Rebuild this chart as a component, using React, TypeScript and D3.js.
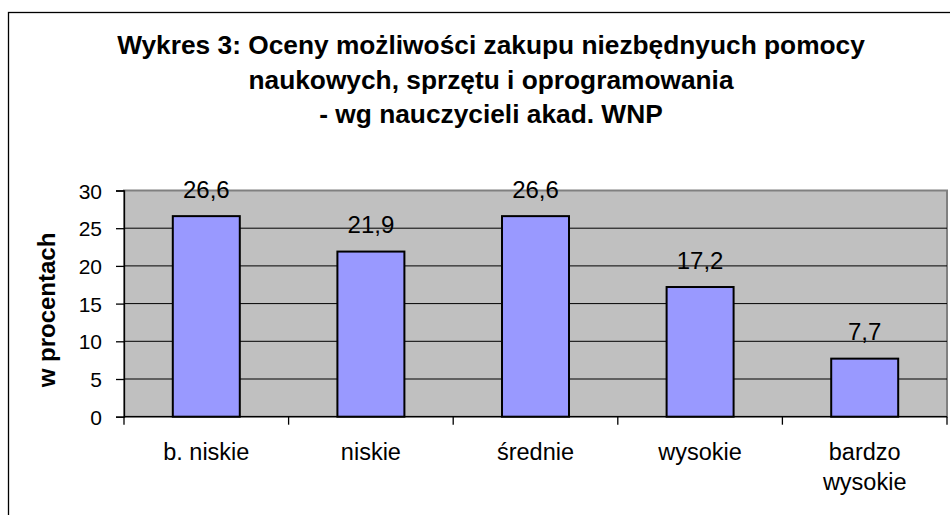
import React, { useEffect, useRef } from "react";
import * as d3 from "d3";

// dane wykresu
const categories = ["b. niskie", "niskie", "średnie", "wysokie", "bardzo wysokie"];
const categoryLines = [["b. niskie"], ["niskie"], ["średnie"], ["wysokie"], ["bardzo", "wysokie"]];
const values = [26.6, 21.9, 26.6, 17.2, 7.7];
const yTicks = [0, 5, 10, 15, 20, 25, 30];
const titleLines = [
  "Wykres 3: Oceny możliwości zakupu niezbędnyuch pomocy",
  "naukowych, sprzętu i oprogramowania",
  "- wg nauczycieli akad. WNP",
];
const yTitle = "w procentach";

const FONT = "'Liberation Sans', Arial, Helvetica, sans-serif";

const App = () => {
  const ref = useRef<SVGSVGElement>(null);

  useEffect(() => {
    const svg = d3.select(ref.current);
    svg.selectAll("*").remove();

    const width = 950;
    const height = 515;
    const plot = { left: 124, right: 947, top: 190.5, bottom: 416.7 };

    // ramka całego wykresu (ucięta z prawej i od dołu)
    svg
      .append("rect")
      .attr("x", 8.5)
      .attr("y", 12.5)
      .attr("width", width)
      .attr("height", height)
      .attr("fill", "#fff")
      .attr("stroke", "#000")
      .attr("stroke-width", 1.3);

    // tytuł
    svg
      .append("g")
      .selectAll("text")
      .data(titleLines)
      .enter()
      .append("text")
      .attr("x", 491)
      .attr("y", (d, i) => 54 + i * 34.5)
      .attr("text-anchor", "middle")
      .attr("font-family", FONT)
      .attr("font-weight", "bold")
      .attr("font-size", 26.3)
      .text((d) => d);

    const x = d3
      .scaleBand<string>()
      .domain(categories)
      .range([plot.left, plot.right])
      .paddingInner(0.593)
      .paddingOuter(0.2965);

    const y = d3.scaleLinear().domain([0, 30]).range([plot.bottom, plot.top]);

    // tło obszaru kreślenia
    svg
      .append("rect")
      .attr("x", plot.left)
      .attr("y", plot.top)
      .attr("width", plot.right - plot.left)
      .attr("height", plot.bottom - plot.top)
      .attr("fill", "#c0c0c0")
      .attr("stroke", "#808080")
      .attr("stroke-width", 2);

    // linie siatki
    svg
      .append("g")
      .selectAll("line")
      .data(yTicks.filter((t) => t > 0 && t < 30))
      .enter()
      .append("line")
      .attr("x1", plot.left)
      .attr("x2", plot.right)
      .attr("y1", (d) => y(d))
      .attr("y2", (d) => y(d))
      .attr("stroke", "#000")
      .attr("stroke-width", 1);

    // oś Y
    const yAxis = svg
      .append("g")
      .attr("transform", `translate(${plot.left},0)`)
      .call(d3.axisLeft(y).tickValues(yTicks).tickSize(8).tickPadding(14));
    yAxis.select(".domain").attr("stroke", "#000").attr("stroke-width", 1.3);
    yAxis.selectAll(".tick line").attr("stroke", "#000").attr("stroke-width", 1.3);
    yAxis
      .selectAll(".tick text")
      .attr("font-family", FONT)
      .attr("font-size", 21)
      .attr("fill", "#000")
      .attr("dy", "0.36em");

    // oś X
    const xTicks = d3.range(categories.length + 1).map((i) => plot.left + i * x.step());
    svg
      .append("line")
      .attr("x1", plot.left)
      .attr("x2", plot.right)
      .attr("y1", plot.bottom)
      .attr("y2", plot.bottom)
      .attr("stroke", "#000")
      .attr("stroke-width", 1.3);
    svg
      .append("g")
      .selectAll("line")
      .data(xTicks)
      .enter()
      .append("line")
      .attr("x1", (d) => d)
      .attr("x2", (d) => d)
      .attr("y1", plot.bottom)
      .attr("y2", plot.bottom + 8)
      .attr("stroke", "#000")
      .attr("stroke-width", 1.3);

    // słupki
    svg
      .append("g")
      .selectAll("rect")
      .data(values)
      .enter()
      .append("rect")
      .attr("x", (d, i) => x(categories[i])!)
      .attr("y", (d) => y(d))
      .attr("width", x.bandwidth())
      .attr("height", (d) => y(0) - y(d))
      .attr("fill", "#9999ff")
      .attr("stroke", "#000")
      .attr("stroke-width", 2);

    // etykiety wartości
    svg
      .append("g")
      .selectAll("text")
      .data(values)
      .enter()
      .append("text")
      .attr("x", (d, i) => x(categories[i])! + x.bandwidth() / 2)
      .attr("y", (d) => y(d) - 18.5)
      .attr("text-anchor", "middle")
      .attr("font-family", FONT)
      .attr("font-size", 24)
      .text((d) => d.toFixed(1).replace(".", ","));

    // etykiety kategorii
    const catText = svg
      .append("g")
      .selectAll("text")
      .data(categoryLines)
      .enter()
      .append("text")
      .attr("text-anchor", "middle")
      .attr("font-family", FONT)
      .attr("font-size", 23.5)
      .attr("y", 460);
    catText
      .selectAll("tspan")
      .data((d, i) => d.map((line) => ({ line, i })))
      .enter()
      .append("tspan")
      .attr("x", (d) => x(categories[d.i])! + x.bandwidth() / 2)
      .attr("dy", (d, j) => (j === 0 ? 0 : 30))
      .text((d) => d.line);

    // tytuł osi Y
    svg
      .append("text")
      .attr("transform", `translate(55,310) rotate(-90)`)
      .attr("text-anchor", "middle")
      .attr("font-family", FONT)
      .attr("font-weight", "bold")
      .attr("font-size", 24)
      .text(yTitle);
  }, []);

  return (
    <svg
      ref={ref}
      width={950}
      height={515}
      style={{ position: "absolute", left: 0, top: 0, background: "#fff" }}
    />
  );
};

export default App;
